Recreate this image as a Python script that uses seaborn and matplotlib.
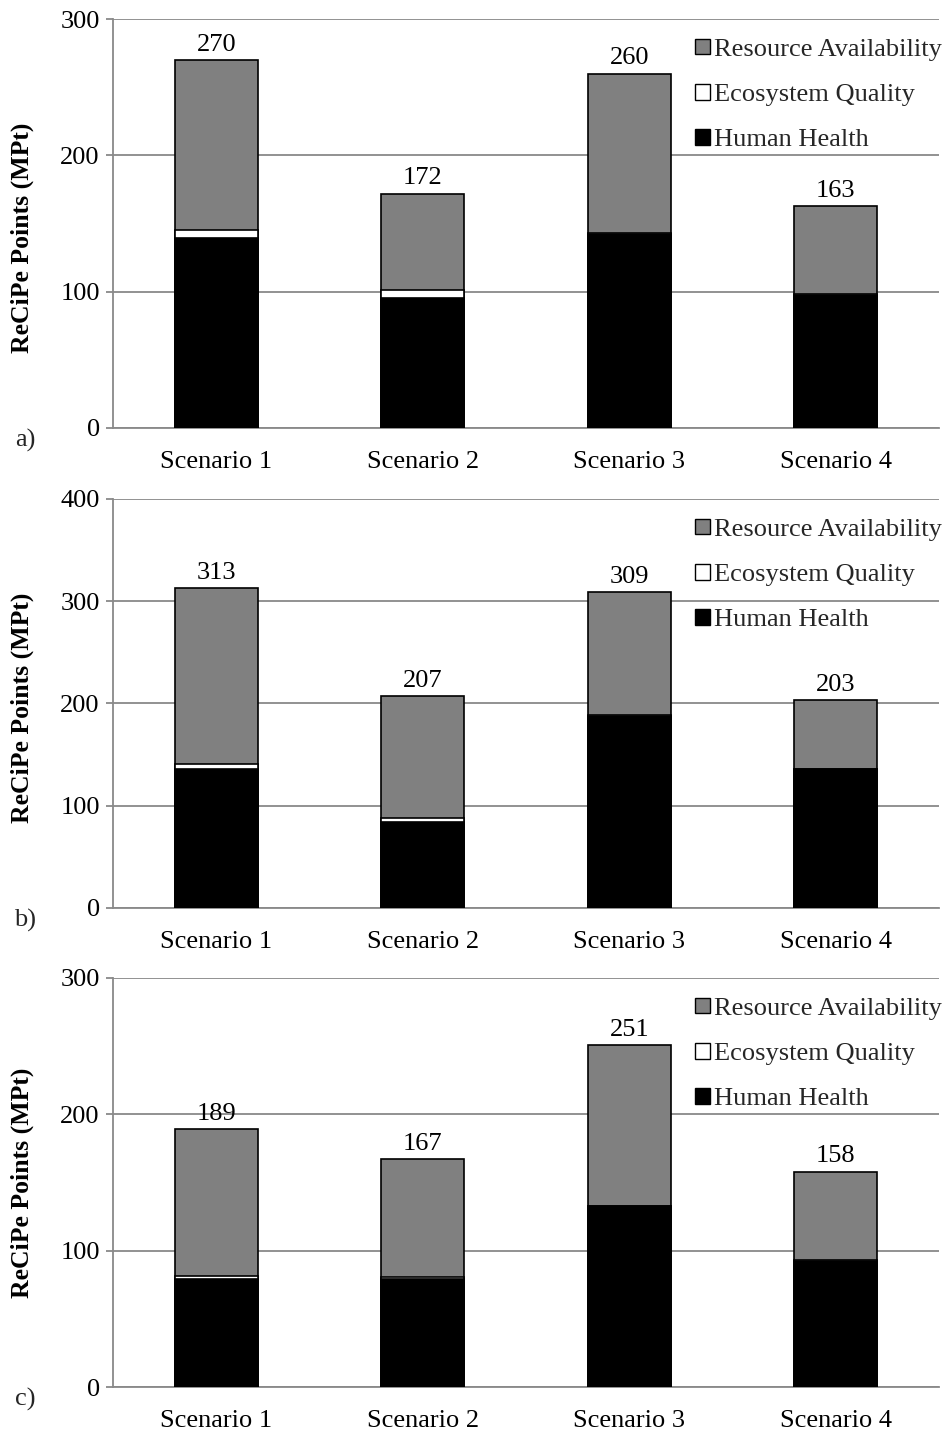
import matplotlib
matplotlib.use("Agg")
import matplotlib.pyplot as plt
from matplotlib.patches import Patch
import seaborn as sns
import pandas as pd
import numpy as np

scenarios = ["Scenario 1", "Scenario 2", "Scenario 3", "Scenario 4"]
series = ["Resource Availability", "Ecosystem Quality", "Human Health"]

hh_a = [139, 95, 142.5, 97.5]
eco_a = [6, 6, 0.5, 0.5]
ra_a = [125, 71, 117, 65]
tot_a = [270, 172, 260, 163]

hh_b = [136, 84, 188, 135.5]
eco_b = [4.5, 4.5, 0.5, 0.5]
ra_b = [172.5, 118.5, 120.5, 67]
tot_b = [313, 207, 309, 203]

hh_c = [79.5, 79.5, 132.5, 92.5]
eco_c = [2, 1.5, 0.5, 0.5]
ra_c = [107.5, 86, 118, 65]
tot_c = [189, 167, 251, 158]

ymax = [300, 400, 300]
panel_labels = ["a)", "b)", "c)"]

sns.set_theme(style="white")
plt.rcParams['font.family'] = ['Liberation Serif', 'DejaVu Serif']

colors = {"Resource Availability": "#808080", "Ecosystem Quality": "#ffffff", "Human Health": "#000000"}
grid_c = "#898989"
FS = 19

fig = plt.figure(figsize=(9.46, 14.33), dpi=100)
W, H = 946, 1433
ax_left, ax_w, ax_h = 113, 826, 409
bottoms_px = [428, 908, 1387]
ylabel_y = [0.465, 0.49, 0.5]

panels = [(hh_a, eco_a, ra_a, tot_a), (hh_b, eco_b, ra_b, tot_b), (hh_c, eco_c, ra_c, tot_c)]

for i, (hh, eco, ra, tot) in enumerate(panels):
    b = bottoms_px[i]
    ax = fig.add_axes([ax_left / W, 1 - b / H, ax_w / W, ax_h / H])
    hh_arr = np.array(hh)
    eco_arr = np.array(eco)
    ra_arr = np.array(ra)
    df = pd.DataFrame({
        "Scenario": scenarios,
        "top": hh_arr + eco_arr + ra_arr,
        "mid": hh_arr + eco_arr,
        "low": hh_arr,
    })
    for col, c in [("top", colors["Resource Availability"]), ("mid", colors["Ecosystem Quality"]), ("low", colors["Human Health"])]:
        sns.barplot(data=df, x="Scenario", y=col, color=c, width=0.4, edgecolor="black",
                    linewidth=1.2, ax=ax, zorder=3, saturation=1)
    ax.bar_label(ax.containers[0], labels=[str(t) for t in tot], padding=3, fontsize=FS, color="black")
    ax.set_ylim(0, ymax[i])
    ax.set_yticks(np.arange(0, ymax[i] + 1, 100))
    ax.set_xlim(-0.5, 3.5)
    ax.grid(axis="y", color=grid_c, linewidth=1.3, zorder=0)
    ax.set_axisbelow(True)
    for s in ["top", "right"]:
        ax.spines[s].set_visible(False)
    for s in ["left", "bottom"]:
        ax.spines[s].set_color(grid_c)
        ax.spines[s].set_linewidth(1.3)
    ax.tick_params(axis="y", which="both", left=True, length=5, width=1.3, color=grid_c,
                   labelsize=FS, pad=4.5, labelcolor="black")
    ax.tick_params(axis="x", bottom=False, labelsize=FS, pad=10.5, labelcolor="black")
    ax.set_xlabel("")
    ax.set_ylabel("ReCiPe Points (MPt)", fontsize=18.5, fontweight="bold", color="black")
    ax.yaxis.set_label_coords(-0.096, ylabel_y[i])
    handles = [Patch(facecolor=colors[s], edgecolor="black", linewidth=1) for s in series]
    ax.legend(handles, series, loc="upper left", bbox_to_anchor=(0.692, 0.978), frameon=False,
              fontsize=FS, handlelength=0.55, handleheight=0.55, handletextpad=0.15,
              labelspacing=0.87, borderaxespad=0.0)
    fig.text(25 / W, 1 - (b + 12) / H, panel_labels[i], fontsize=FS, ha="center", va="center")

fig.savefig("out.png", dpi=100)
